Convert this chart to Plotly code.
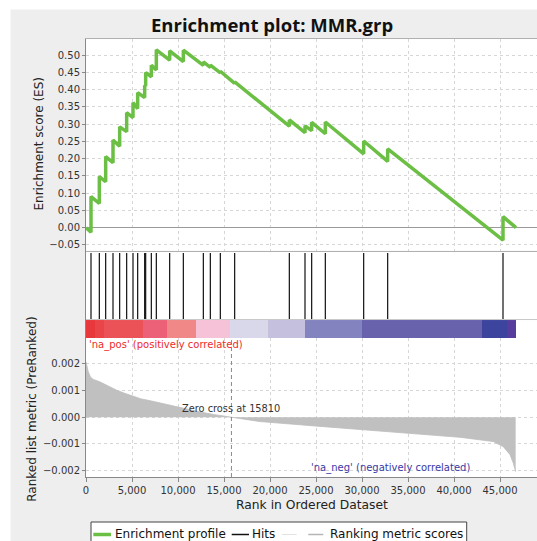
import plotly.graph_objects as go

# ---------------- data ----------------
hit_ranks = [543, 1449, 2138, 2935, 3659, 4420, 5109, 5616, 6377, 6486, 7101, 7645,
             9094, 10580, 12754, 13515, 14601, 16159, 22101, 23804, 24529, 26014,
             30181, 32790, 45326]
es_before = [-0.013, 0.070, 0.133, 0.188, 0.236, 0.278, 0.319, 0.345, 0.377, 0.410,
             0.437, 0.457, 0.485, 0.481, 0.470, 0.464, 0.448, 0.418, 0.294, 0.275,
             0.281, 0.272, 0.214, 0.192, -0.036]
es_after = [0.090, 0.148, 0.206, 0.254, 0.292, 0.333, 0.362, 0.391, 0.412, 0.449,
            0.470, 0.515, 0.512, 0.514, 0.480, 0.471, 0.453, 0.422, 0.312, 0.295,
            0.305, 0.306, 0.251, 0.228, 0.032]
es_start = 0.0
es_end = 0.0
n_genes = 46739
zero_cross = 15810

metric_ranks = [0, 100, 250, 500, 800, 1500, 2500, 3300, 4200, 5100, 6000, 7000, 8500,
                9800, 11000, 12400, 14000, 15810, 18913, 24891, 29783, 35217, 40652,
                44275, 45362, 46087, 46449, 46703]
metric_values = [0.00208, 0.0019, 0.0017, 0.0015, 0.00142, 0.00133, 0.00115, 0.00102,
                 0.0009, 0.00078, 0.00069, 0.00062, 0.0005, 0.0004, 0.0003, 0.0002,
                 0.0001, 0.0, -0.00016, -0.000325, -0.00045, -0.0006, -0.00075,
                 -0.00091, -0.0011, -0.0014, -0.00172, -0.00204]

bar_starts = [0, 978, 1957, 6196, 8804, 11957, 15652, 19783, 23804, 30000, 43043, 45761]
bar_ends = [978, 1957, 6196, 8804, 11957, 15652, 19783, 23804, 30000, 43043, 45761, 46739]
bar_colors = ["#e8383c", "#eb4448", "#eb5257", "#ec6177", "#f08888", "#f6c2d8",
              "#d9d8ea", "#c5c0de", "#8383bf", "#6862ac", "#3c449e", "#563c9c"]

es_ticks = [-0.05, 0.0, 0.05, 0.10, 0.15, 0.20, 0.25, 0.30, 0.35, 0.40, 0.45, 0.50]
metric_ticks = [-0.002, -0.001, 0.0, 0.001, 0.002]
x_ticks = [0, 5000, 10000, 15000, 20000, 25000, 30000, 35000, 40000, 45000]

title_text = "Enrichment plot: MMR.grp"
es_title = "Enrichment score (ES)"
metric_title = "Ranked list metric (PreRanked)"
x_title = "Rank in Ordered Dataset"
pos_label = "'na_pos' (positively correlated)"
neg_label = "'na_neg' (negatively correlated)"
legend_names = ["Enrichment profile", "Hits", "", "Ranking metric scores"]

# ---------------- layout geometry ----------------
W, H = 537, 541
L, R, T, B = 86, 0, 39, 64
PW = W - L - R
PH = H - T - B


def xp(px):
    return (px - L) / PW


def yp(py):
    return (H - B - py) / PH


ES_GREEN = "#6cbf45"
FONT = "DejaVu Sans"

# build ES path
es_x = [0]
es_y = [es_start]
for r, b, a in zip(hit_ranks, es_before, es_after):
    es_x += [r, r]
    es_y += [b, a]
es_x.append(n_genes)
es_y.append(es_end)

# hits
hx, hy = [], []
for r in hit_ranks:
    hx += [r, r, None]
    hy += [0.217, 0.971, None]

fig = go.Figure()

fig.add_trace(go.Scatter(x=es_x, y=es_y, mode="lines",
                         line=dict(color=ES_GREEN, width=3.5),
                         xaxis="x", yaxis="y", showlegend=False, hoverinfo="skip"))

fig.add_trace(go.Scatter(x=hx, y=hy, mode="lines",
                         line=dict(color="#111111", width=1.2),
                         xaxis="x2", yaxis="y2", showlegend=False, hoverinfo="skip"))

fig.add_trace(go.Bar(base=bar_starts,
                     x=[e - s for s, e in zip(bar_starts, bar_ends)],
                     y=[0.105] * len(bar_starts), width=0.2, orientation="h",
                     marker=dict(color=bar_colors, line=dict(width=0)),
                     xaxis="x2", yaxis="y2", showlegend=False, hoverinfo="skip"))

fig.add_trace(go.Scatter(x=metric_ranks, y=metric_values, mode="lines",
                         fill="tozeroy", fillcolor="#c0c0c0",
                         line=dict(color="#bdbdbd", width=0.8),
                         xaxis="x3", yaxis="y3", showlegend=False, hoverinfo="skip"))

xmax = (W - L) / 46.0 * 5000
es_range = [-(250.5 - 227.7) / 345.4, (227.7 - 39) / 345.4]
m_range = [-(477 - 417.3) / 26.67 * 0.001, (417.3 - 338) / 26.67 * 0.001]

grid = dict(gridcolor="#d6d6d6", griddash="3px,3px", gridwidth=1)
tickfont = dict(family=FONT, size=10, color="#333333")

fig.update_layout(
    width=W, height=H, autosize=False,
    margin=dict(l=L, r=R, t=T, b=B, pad=0),
    paper_bgcolor="#eeeeee", plot_bgcolor="#ffffff",
    font=dict(family=FONT, size=10, color="#333333"),
    bargap=0,
    xaxis=dict(domain=[0, 1], anchor="y", range=[0, xmax], tickvals=x_ticks,
               showticklabels=False, ticks="", showgrid=True, **grid,
               zeroline=False, showline=True, mirror=True, linecolor="#b0b0b0", linewidth=1),
    yaxis=dict(domain=[yp(250.5), 1], anchor="x", range=es_range, tickvals=es_ticks,
               tickformat=".2f", tickfont=tickfont, ticks="outside", ticklen=3,
               tickcolor="#888888", showgrid=True, **grid,
               zeroline=True, zerolinecolor="#9a9a9a", zerolinewidth=1.5,
               showline=True, linecolor="#888888", linewidth=1),
    xaxis2=dict(domain=[0, 1], anchor="y2", range=[0, xmax], showticklabels=False,
                ticks="", showgrid=False, zeroline=False, showline=False),
    yaxis2=dict(domain=[yp(338), yp(250.5)], anchor="x2", range=[0, 1],
                showticklabels=False, ticks="", showgrid=False, zeroline=False,
                showline=True, linecolor="#888888", linewidth=1),
    xaxis3=dict(domain=[0, 1], anchor="y3", range=[0, xmax], tickvals=x_ticks,
                tickformat=",d", tickfont=tickfont, ticks="outside", ticklen=4,
                tickcolor="#888888", showgrid=True, **grid, zeroline=False,
                showline=True, linecolor="#888888", linewidth=1),
    yaxis3=dict(domain=[0, yp(338)], anchor="x3", range=m_range, tickvals=metric_ticks,
                tickformat=".3f", tickfont=tickfont, ticks="outside", ticklen=3,
                tickcolor="#888888", showgrid=True, **grid, zeroline=False,
                showline=True, linecolor="#888888", linewidth=1),
)

shapes = []
# white strips outside the grey chart panel
shapes.append(dict(type="rect", xref="paper", yref="paper", x0=xp(0), x1=xp(W),
                   y0=yp(9.5), y1=yp(0), fillcolor="#ffffff", line=dict(width=0), layer="below"))
shapes.append(dict(type="rect", xref="paper", yref="paper", x0=xp(0), x1=xp(10.5),
                   y0=yp(H), y1=yp(0), fillcolor="#ffffff", line=dict(width=0), layer="below"))
# separator between hits and colour bar
shapes.append(dict(type="line", xref="x2 domain", yref="y2", x0=0, x1=1, y0=0.211, y1=0.211,
                   line=dict(color="#c8c8c8", width=1)))
# zero-cross line
shapes.append(dict(type="line", xref="x3", yref="y3 domain", x0=zero_cross, x1=zero_cross,
                   y0=0, y1=1, line=dict(color="#8a8a8a", width=1, dash="4px,3px")))
# legend box
shapes.append(dict(type="rect", xref="paper", yref="paper", x0=xp(91), x1=xp(466.7),
                   y0=yp(550), y1=yp(522), fillcolor="#ffffff",
                   line=dict(color="#444444", width=1)))
leg_y = yp(534.5)
leg_lines = [(93.3, 111, ES_GREEN, 3.5), (231.7, 249, "#111111", 1.5),
             (281.7, 296.7, "#e2e2e2", 1), (308.3, 323.3, "#b5b5b5", 1.5)]
for x0, x1, c, w in leg_lines:
    shapes.append(dict(type="line", xref="paper", yref="paper", x0=xp(x0), x1=xp(x1),
                       y0=leg_y, y1=leg_y, line=dict(color=c, width=w)))
fig.update_layout(shapes=shapes)

ann = []
ann.append(dict(text="<b>" + title_text + "</b>", xref="paper", yref="paper",
                x=xp(272), y=yp(25), xanchor="center", yanchor="middle", showarrow=False,
                font=dict(family="Open Sans", size=18.5, color="#111111")))
ann.append(dict(text=es_title, xref="paper", yref="paper", x=xp(38), y=yp(144.5),
                xanchor="center", yanchor="middle", textangle=-90, showarrow=False,
                font=dict(family=FONT, size=12, color="#222222")))
ann.append(dict(text=metric_title, xref="paper", yref="paper", x=xp(31.7), y=yp(409),
                xanchor="center", yanchor="middle", textangle=-90, showarrow=False,
                font=dict(family=FONT, size=12, color="#222222")))
ann.append(dict(text=x_title, xref="paper", yref="paper", x=xp(311.7), y=yp(505),
                xanchor="center", yanchor="middle", showarrow=False,
                font=dict(family=FONT, size=12.3, color="#222222")))
ann.append(dict(text=pos_label, xref="paper", yref="paper", x=xp(86.5), y=yp(344.5),
                xanchor="left", yanchor="middle", showarrow=False,
                font=dict(family=FONT, size=10, color="#ee2a2a")))
ann.append(dict(text=neg_label, xref="paper", yref="paper", x=xp(472.3), y=yp(468.3),
                xanchor="right", yanchor="middle", showarrow=False,
                font=dict(family=FONT, size=10, color="#3a3aa6")))
ann.append(dict(text="Zero cross at " + str(zero_cross), xref="x3", yref="paper",
                x=zero_cross, y=yp(408.3), xanchor="center", yanchor="middle",
                showarrow=False, font=dict(family=FONT, size=9.8, color="#333333")))
leg_texts = [(113.3, legend_names[0]), (250, legend_names[1]), (327.7, legend_names[3])]
for x0, t in leg_texts:
    ann.append(dict(text=t, xref="paper", yref="paper", x=xp(x0), y=yp(533.5),
                    xanchor="left", yanchor="middle", showarrow=False,
                    font=dict(family=FONT, size=12, color="#111111")))
fig.update_layout(annotations=ann)

fig.write_html("out.html",
               config={"displayModeBar": False, "staticPlot": True},
               post_script="document.body.style.margin='0';"
                           "document.body.style.padding='0';"
                           "document.documentElement.style.overflow='hidden';")
